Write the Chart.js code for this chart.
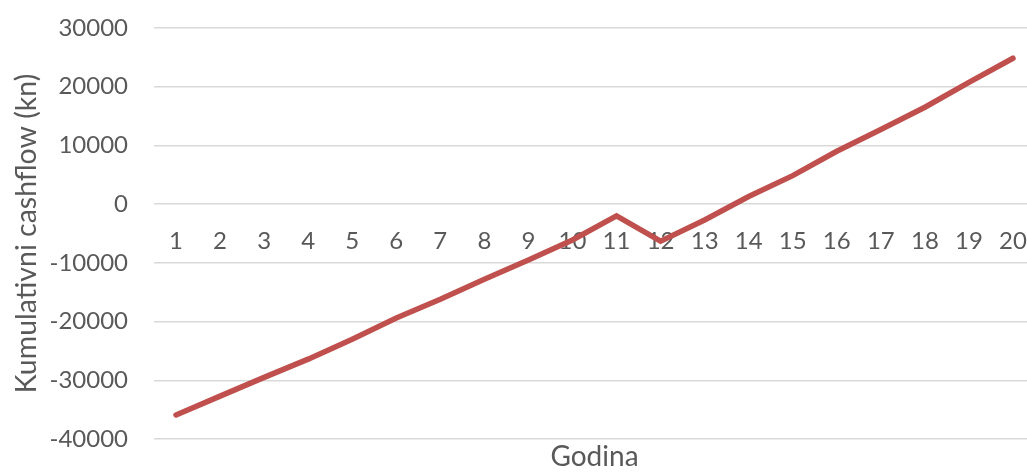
<!DOCTYPE html>
<html>
<head>
<meta charset="utf-8">
<script src="https://cdn.jsdelivr.net/npm/chart.js@4/dist/chart.umd.min.js"></script>
<style>
  html, body { margin: 0; padding: 0; background: #fff; overflow: hidden; }
  #wrap { width: 1027px; height: 474px; overflow: hidden; }
</style>
</head>
<body>
<div id="wrap"><canvas id="cashChart" width="1040" height="474"></canvas></div>
<script>
// godine i kumulativni cashflow (kn)
const godine = ["1","2","3","4","5","6","7","8","9","10","11","12","13","14","15","16","17","18","19","20"];
const cashflow = [-35900, -32700, -29500, -26400, -23000, -19400, -16200, -12800, -9500, -6100,
                  -2000, -6300, -2700, 1300, 4850, 9000, 12700, 16500, 20750, 24850];
const yTicks = [-40000, -30000, -20000, -10000, 0, 10000, 20000, 30000];

const textColor = "#595959";
const fontFam = "Lato, 'Open Sans', sans-serif";

function createChart() {
    const ctx = document.getElementById("cashChart").getContext("2d");
    return new Chart(ctx, {
        type: "line",
        data: {
            labels: godine,
            datasets: [{
                label: "Kumulativni cashflow",
                data: cashflow,
                borderColor: "#C0504D",
                borderWidth: 5.5,
                borderCapStyle: "round",
                borderJoinStyle: "miter",
                pointRadius: 0,
                tension: 0
            }]
        },
        options: {
            responsive: false,
            animation: false,
            layout: { padding: { top: 28, right: 5, left: 0, bottom: 0 } },
            plugins: { legend: { display: false }, tooltip: { enabled: false } },
            scales: {
                // x os sjedi na nuli
                x: {
                    type: "category",
                    offset: true,
                    position: { y: 0 },
                    grid: { display: false },
                    border: { display: false },
                    ticks: { color: textColor, font: { family: fontFam, size: 24 }, padding: 15, maxRotation: 0, autoSkip: false },
                    afterFit: s => {
                        s.height = 0;
                        s.paddingLeft = 0; s.paddingRight = 0; s.paddingTop = 0; s.paddingBottom = 0;
                    }
                },
                // samo za naslov "Godina" ispod grafa
                x2: {
                    type: "category",
                    labels: godine,
                    offset: true,
                    position: "bottom",
                    grid: { display: false },
                    border: { display: false },
                    ticks: { display: false },
                    title: { display: true, text: "Godina", color: textColor, font: { family: fontFam, size: 28 }, padding: { top: 0, bottom: 0 } },
                    afterFit: s => { s.height = 35; }
                },
                y: {
                    min: -40000,
                    max: 30000,
                    afterBuildTicks: s => { s.ticks = yTicks.map(v => ({ value: v })); },
                    grid: { color: "#d9d9d9", lineWidth: 1.5, drawTicks: false },
                    border: { display: false },
                    ticks: { color: textColor, font: { family: fontFam, size: 24 }, padding: 26, callback: v => String(v) },
                    title: { display: true, text: "Kumulativni cashflow (kn)", color: textColor, font: { family: fontFam, size: 28.5 }, padding: { top: 10, bottom: 0 } },
                    afterFit: s => {
                        s.width = 154;
                        s.paddingTop = 0; s.paddingBottom = 0;
                    }
                }
            }
        }
    });
}

createChart();
</script>
</body>
</html>
